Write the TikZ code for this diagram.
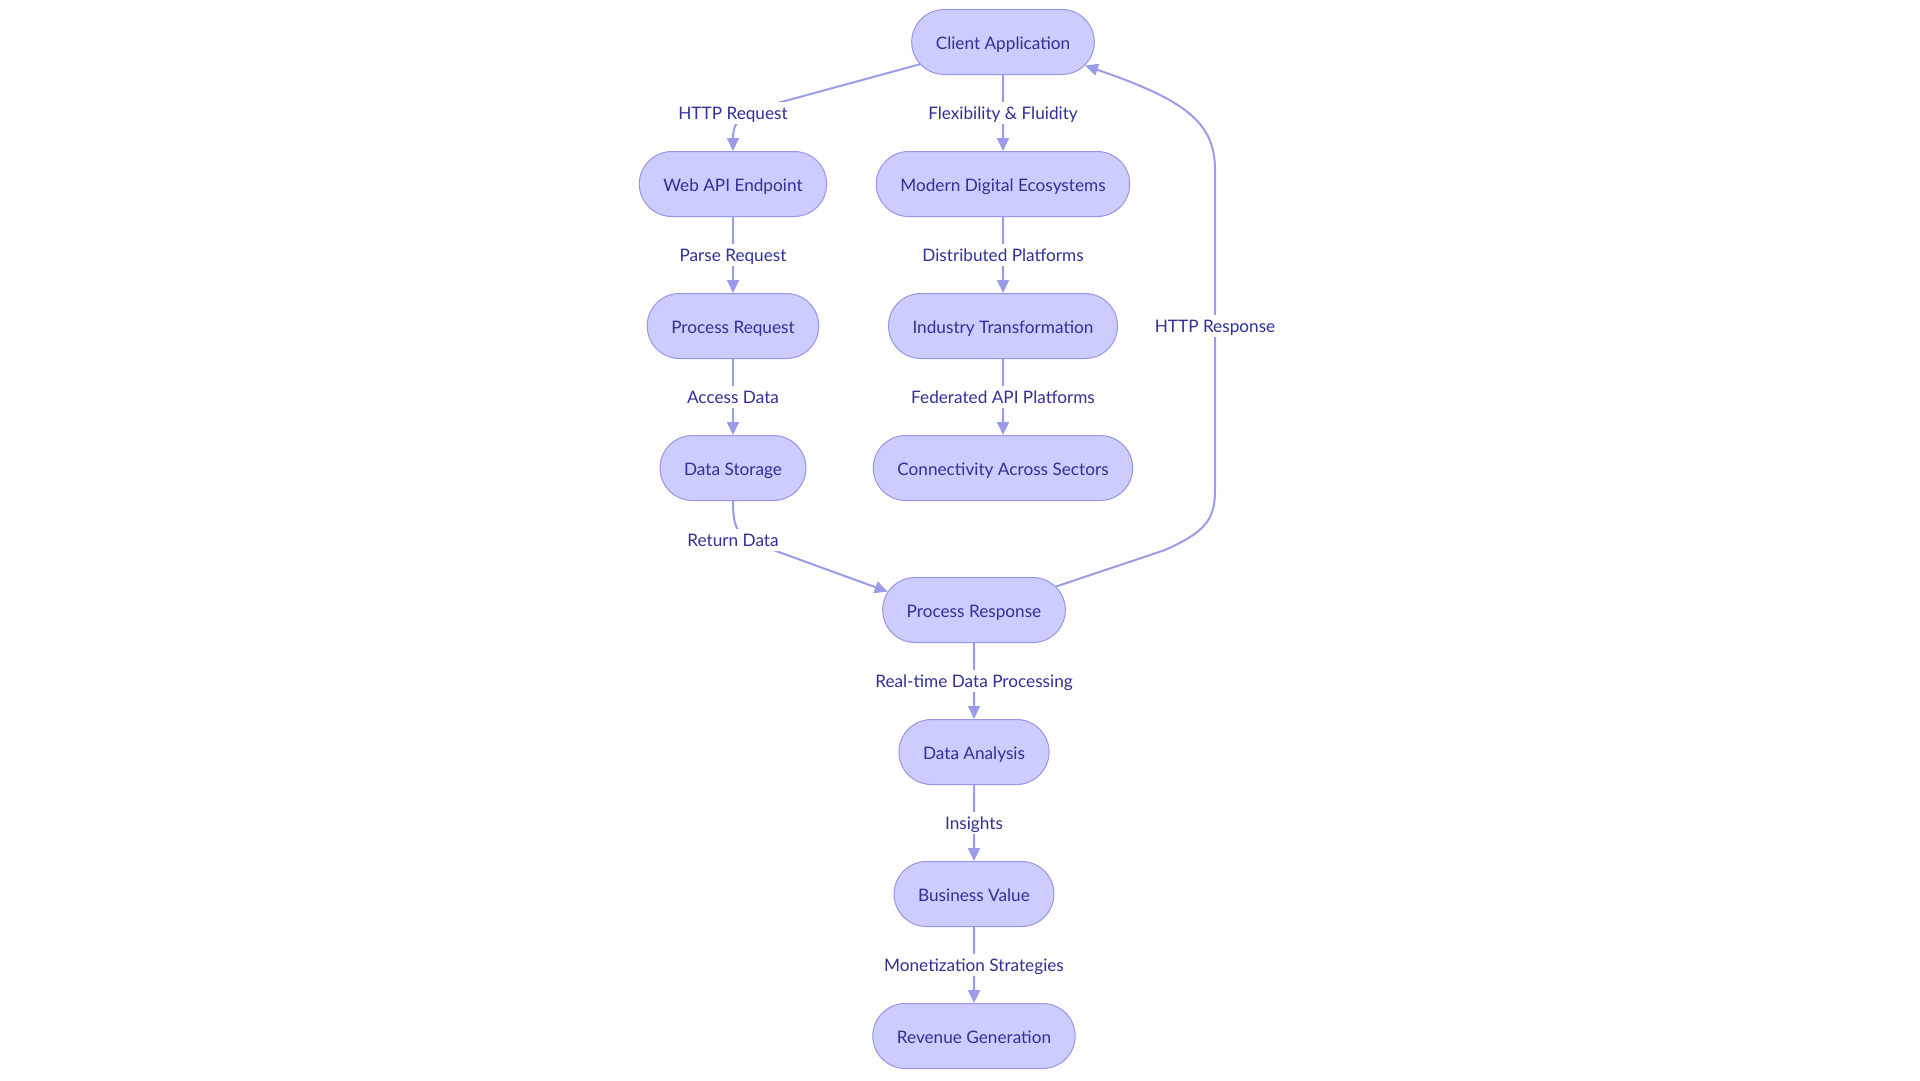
\documentclass[tikz,border=0pt]{standalone}
\usepackage{fontspec}
\setmainfont{Lato}
\usetikzlibrary{shapes.misc,arrows.meta}
\definecolor{boxfill}{RGB}{204,204,255}
\definecolor{boxline}{RGB}{150,150,230}
\definecolor{flowline}{RGB}{154,156,234}
\definecolor{inktext}{RGB}{48,48,150}

\begin{document}
\begin{tikzpicture}[x=1pt, y=-1pt,
    stage/.style={rounded rectangle, draw=boxline, fill=boxfill, line width=1pt,
      minimum height=65pt, inner xsep=22.5pt, text height=17pt, text depth=3pt,
      text=inktext, font=\fontsize{17.2}{20}\selectfont},
    flow/.style={draw=flowline, line width=2pt, -{Triangle[length=13pt,width=12pt]}},
    tag/.style={fill=white, text=inktext, inner sep=1pt, text height=16pt, text depth=4pt,
      font=\fontsize{17.2}{20}\selectfont}]

    \useasboundingbox (0, 0) rectangle (1920, 1080);

    % Draw the nodes
    \node[stage] (client) at (1003, 42) {Client Application};
    \node[stage] (webapi) at (733, 184) {Web API Endpoint};
    \node[stage] (modern) at (1003, 184) {Modern Digital Ecosystems};
    \node[stage] (procreq) at (733, 326) {Process Request};
    \node[stage] (industry) at (1003, 326) {Industry Transformation};
    \node[stage] (storage) at (733, 468) {Data Storage};
    \node[stage] (sectors) at (1003, 468) {Connectivity Across Sectors};
    \node[stage] (procresp) at (974, 610) {Process Response};
    \node[stage] (analysis) at (974, 752) {Data Analysis};
    \node[stage] (value) at (974, 894) {Business Value};
    \node[stage] (revenue) at (974, 1036) {Revenue Generation};

    % Left branch
    \draw[flow] (client.195) -- (785, 101) .. controls (742, 112) and (733, 120) .. (webapi.north)
        node[tag] at (733, 113) {HTTP Request};
    \draw[flow] (webapi) -- (procreq) node[tag, midway] {Parse Request};
    \draw[flow] (procreq) -- (storage) node[tag, midway] {Access Data};
    \draw[flow] (storage.south) .. controls (733, 530) and (738, 538) .. (765, 547) -- (procresp.168)
        node[tag] at (733, 540) {Return Data};

    % Middle branch
    \draw[flow] (client) -- (modern) node[tag, midway] {Flexibility \& Fluidity};
    \draw[flow] (modern) -- (industry) node[tag, midway] {Distributed Platforms};
    \draw[flow] (industry) -- (sectors) node[tag, midway] {Federated API Platforms};

    % Response back to the client
    \draw[flow] (procresp.16) -- (1165, 550) .. controls (1205, 532) and (1215, 520) .. (1215, 490)
        -- (1215, 170) .. controls (1215, 122) and (1185, 100) .. (client.344)
        node[tag] at (1215, 326) {HTTP Response};

    % Bottom chain
    \draw[flow] (procresp) -- (analysis) node[tag, midway] {Real-time Data Processing};
    \draw[flow] (analysis) -- (value) node[tag, midway] {Insights};
    \draw[flow] (value) -- (revenue) node[tag, midway] {Monetization Strategies};
\end{tikzpicture}
\end{document}
